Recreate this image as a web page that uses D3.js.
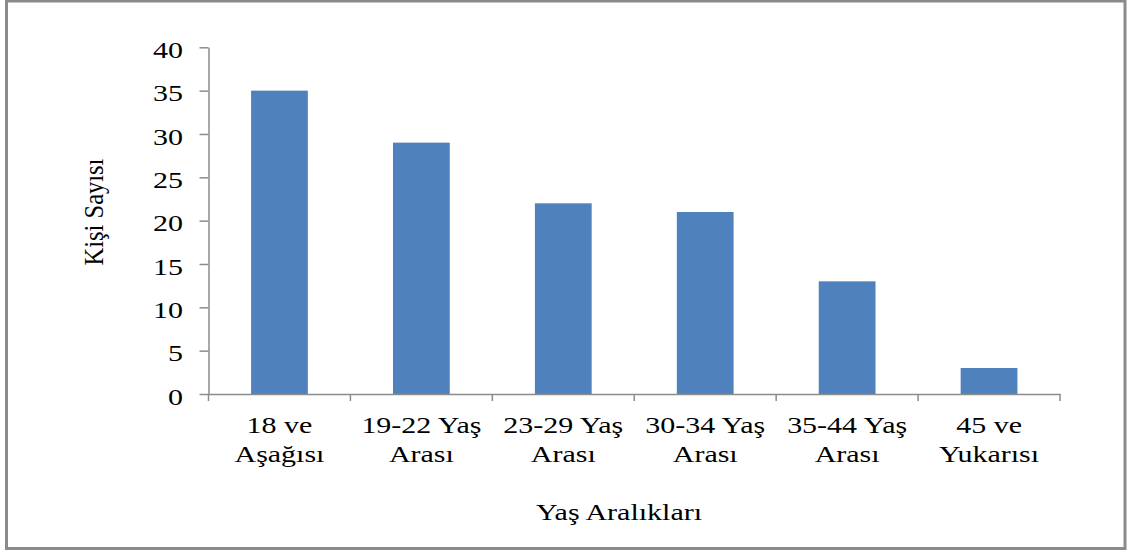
<!DOCTYPE html>
<html lang="tr">
<head>
<meta charset="utf-8">
<title>Yaş Aralıkları</title>
<script src="https://cdn.jsdelivr.net/npm/d3@7"></script>
<style>
  html, body { margin: 0; padding: 0; background: #fff; }
  svg { display: block; }
  text { font-family: "Liberation Serif", "Times New Roman", serif; fill: #000; }
</style>
</head>
<body>
<svg id="chart" width="1130" height="552"></svg>
<script>
// Age groups (two-line labels) and number of people in each
const categories = ["18 ve\nAşağısı", "19-22 Yaş\nArası", "23-29 Yaş\nArası", "30-34 Yaş\nArası", "35-44 Yaş\nArası", "45 ve\nYukarısı"];
const values = [35, 29, 22, 21, 13, 3];
const yTicks = [0, 5, 10, 15, 20, 25, 30, 35, 40];
const xTitle = "Yaş Aralıkları";
const yTitle = "Kişi Sayısı";

const svg = d3.select("#chart");
const axisColor = "#8c8c8c";
const fontSize = 24;
const stretch = 1.25;

// outer frame
svg.append("rect")
  .attr("x", 6.5).attr("y", 1)
  .attr("width", 1118.5).attr("height", 547.5)
  .attr("fill", "#fff")
  .attr("stroke", "#8a8a8a")
  .attr("stroke-width", 3);

const plot = { left: 208.5, right: 1060, top: 47.3, bottom: 394 };

const x = d3.scaleBand()
  .domain(categories)
  .range([plot.left, plot.right])
  .paddingInner(0.6)
  .paddingOuter(0.3);

const y = d3.scaleLinear()
  .domain([0, 40])
  .range([plot.bottom, plot.top]);

// bars
svg.append("g").selectAll("rect")
  .data(values)
  .join("rect")
  .attr("x", (d, i) => x(categories[i]))
  .attr("y", d => y(d))
  .attr("width", x.bandwidth())
  .attr("height", d => y(0) - y(d))
  .attr("fill", "#4f81bd");

// y axis
const yAxis = svg.append("g")
  .attr("transform", `translate(${plot.left},0)`)
  .call(d3.axisLeft(y).tickValues(yTicks).tickSize(9).tickSizeOuter(0));
yAxis.select(".domain").attr("stroke", axisColor).attr("stroke-width", 1.5);
yAxis.selectAll(".tick line").attr("stroke", axisColor).attr("stroke-width", 1.5);
yAxis.selectAll(".tick text")
  .attr("x", 0).attr("dy", "0.42em")
  .attr("text-anchor", "end")
  .attr("transform", `translate(-25.5,0) scale(${stretch},1)`)
  .style("font-size", fontSize + "px")
  .style("font-family", '"Liberation Serif", "Times New Roman", serif')
  .attr("fill", "#000");

// x axis line
const xAxis = svg.append("g")
  .attr("transform", `translate(0,${plot.bottom})`)
  .call(d3.axisBottom(x).tickSize(0).tickSizeOuter(0).tickFormat(""));
xAxis.select(".domain").attr("stroke", axisColor).attr("stroke-width", 1.5);
xAxis.selectAll(".tick").remove();

// tick marks on the category boundaries
const boundaries = categories.map(c => x(c) - x.step() * x.paddingInner() / 2)
  .concat([plot.right]);
boundaries[0] = plot.left;
svg.append("g").selectAll("line")
  .data(boundaries)
  .join("line")
  .attr("x1", d => d).attr("x2", d => d)
  .attr("y1", plot.bottom).attr("y2", plot.bottom + 7)
  .attr("stroke", axisColor)
  .attr("stroke-width", 1.5);

// category labels
const labels = svg.append("g").selectAll("text")
  .data(categories)
  .join("text")
  .attr("text-anchor", "middle")
  .attr("transform", d => `translate(${x(d) + x.bandwidth() / 2},433) scale(${stretch},1)`)
  .style("font-size", fontSize + "px");
labels.selectAll("tspan")
  .data(d => d.split("\n"))
  .join("tspan")
  .attr("x", 0)
  .attr("y", (d, i) => i * 29)
  .text(d => d);

// axis titles
svg.append("text")
  .attr("text-anchor", "middle")
  .attr("transform", `translate(619,520) scale(${stretch},1)`)
  .style("font-size", fontSize + "px")
  .text(xTitle);

svg.append("text")
  .attr("text-anchor", "middle")
  .attr("transform", `translate(103,212) scale(1.15,1) rotate(-90)`)
  .style("font-size", "24.5px")
  .text(yTitle);
</script>
</body>
</html>
